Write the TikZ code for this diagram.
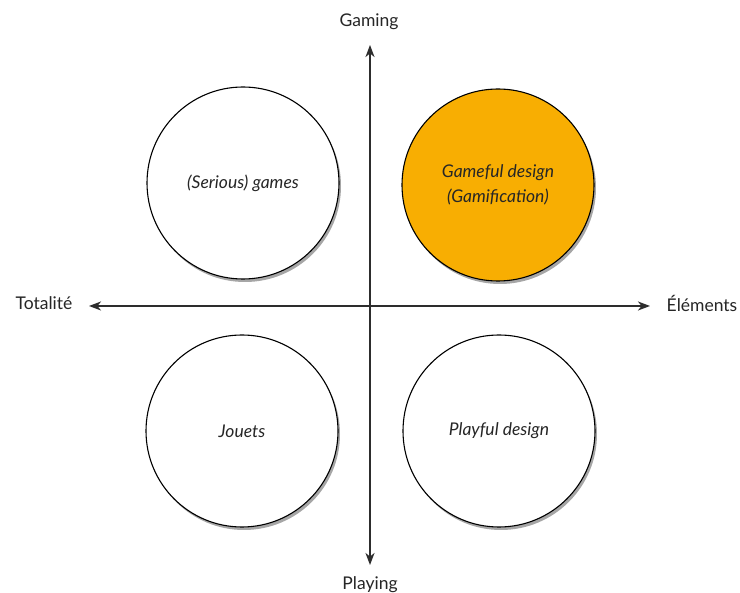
\documentclass[tikz,border=0pt]{standalone}
\usepackage{fontspec}
\setmainfont{Lato}
\usetikzlibrary{arrows.meta,shadows}
\definecolor{gameorange}{RGB}{248,174,2}
\definecolor{axisgray}{RGB}{45,45,45}
\begin{document}
\begin{tikzpicture}[x=1pt,y=-1pt,
  quad/.style={circle,draw=black,line width=1.1pt,minimum size=192pt,inner sep=0pt,
    align=center,font=\fontsize{17.5}{25}\selectfont\itshape,text=black!85,
    drop shadow={shadow xshift=2pt,shadow yshift=-3pt,opacity=0.35,fill=black}},
  axis/.style={draw=axisgray,line width=1.4pt,{Stealth[length=12pt,width=9pt,inset=3.5pt]}-{Stealth[length=12pt,width=9pt,inset=3.5pt]}},
  axlabel/.style={font=\fontsize{17.5}{20}\selectfont,text=black!85,inner sep=0pt}]
\useasboundingbox (0,0) rectangle (740,593);
\fill[white] (0,0) rectangle (740,593);
\node[quad,fill=white] (serious) at (243,183) {(Serious) games};
\node[quad,fill=gameorange] (gameful) at (498,185) {Gameful design\\(Gamification)};
\node[quad,fill=white] (jouets) at (242,431) {Jouets};
\node[quad,fill=white] (playful) at (499,431) {Playful design};
\coordinate (top) at (370,45);
\coordinate (bottom) at (370,565);
\coordinate (left) at (89,306);
\coordinate (right) at (650,306);
\draw[axis] (bottom) -- (top);
\draw[axis] (left) -- (right);
\node[axlabel] (gaming) at (369,22) {Gaming};
\node[axlabel] (playing) at (370,585) {Playing};
\node[axlabel] (totalite) at (44,303) {Totalité};
\node[axlabel] (elements) at (702,303) {Éléments};
\end{tikzpicture}
\end{document}
